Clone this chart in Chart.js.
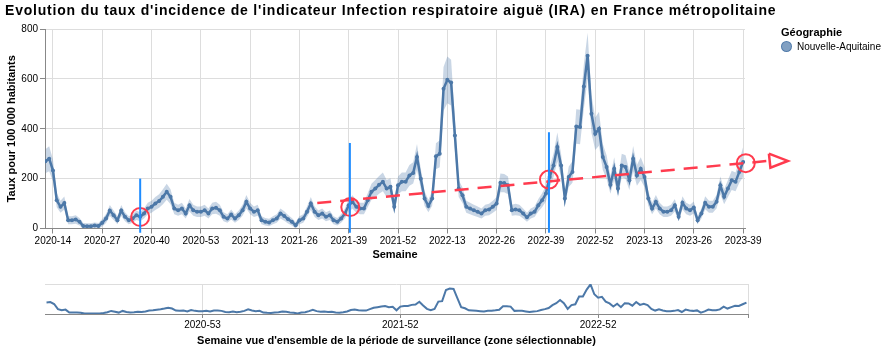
<!DOCTYPE html>
<html>
<head>
<meta charset="utf-8">
<script src="https://cdn.jsdelivr.net/npm/chart.js@4.4.1/dist/chart.umd.min.js"></script>
<style>
	body { margin: 0; background: #fff; font-family: 'Liberation Sans', Arial, Helvetica, sans-serif; }
	#page { position: relative; width: 885px; height: 352px; }
	#titre { position: absolute; left: 5px; top: 2px; font-size: 14px; letter-spacing: 0.8px; font-weight: bold; color: #000; white-space: nowrap; }
	#principal { position: absolute; left: 0; top: 0; }
	#apercu { position: absolute; left: 0; top: 270px; }
	#legende { position: absolute; left: 781px; top: 26px; font-size: 10px; color: #000; }
	#legende .titre-legende { font-size: 11px; font-weight: bold; margin-bottom: 3px; }
	#legende .item { display: flex; align-items: center; }
	#legende .pastille { width: 11px; height: 11px; border-radius: 50%; background: rgba(76,120,168,0.7); border: 1px solid rgba(76,120,168,0.9); box-sizing: border-box; margin-right: 5px; }
</style>
</head>
<body>
<div id="page">
	<canvas id="principal" width="885" height="264"></canvas>
	<canvas id="apercu" width="885" height="82"></canvas>
	<div id="titre">Evolution du taux d'incidence de l'indicateur Infection respiratoire aiguë (IRA) en France métropolitaine</div>
	<div id="legende">
		<div class="titre-legende">Géographie</div>
		<div class="item"><span class="pastille"></span>Nouvelle-Aquitaine</div>
	</div>
</div>
<script>
// weeks: 2020-12 .. 2023-39
const debut = { annee: 2020, semaine: 12 };
const finParAnnee = { 2020: 53, 2021: 52, 2022: 52, 2023: 39 };

const taux2020 = [270, 280, 233, 113, 87, 102, 33, 33, 36, 27, 10, 9, 9, 12, 10, 23, 40, 72, 53, 33, 72, 47, 33, 40, 53, 47, 60, 80, 87, 100, 110, 127, 147, 127, 80, 73, 80, 60, 93, 73, 67, 67];
const taux2021 = [73, 60, 80, 83, 73, 47, 40, 56, 40, 53, 73, 107, 80, 67, 73, 33, 27, 24, 33, 40, 60, 50, 37, 27, 13, 33, 40, 67, 100, 67, 53, 60, 47, 53, 33, 27, 40, 60, 93, 106, 87, 80, 80, 113, 147, 160, 175, 187, 160, 167, 87, 173];
const taux2022 = [187, 187, 213, 223, 287, 200, 120, 90, 120, 290, 300, 560, 596, 585, 373, 160, 133, 87, 80, 73, 67, 60, 73, 76, 87, 100, 183, 182, 173, 73, 76, 73, 60, 45, 60, 67, 93, 113, 140, 207, 253, 327, 253, 120, 207, 227, 409, 407, 569, 693, 460, 380];
const taux2023 = [400, 287, 247, 175, 240, 160, 253, 247, 193, 280, 213, 240, 207, 120, 80, 107, 80, 67, 67, 73, 93, 47, 103, 80, 73, 84, 33, 60, 103, 87, 87, 107, 173, 127, 160, 193, 187, 227, 267];

// half width of the confidence band
const ecart2020 = [48, 50, 44, 28, 24, 26, 16, 16, 17, 15, 12, 12, 12, 12, 12, 15, 18, 22, 19, 16, 22, 18, 16, 17, 19, 18, 20, 23, 24, 26, 27, 30, 32, 30, 23, 22, 23, 20, 25, 22, 21, 21];
const ecart2021 = [22, 20, 23, 24, 22, 18, 17, 20, 17, 19, 22, 27, 23, 21, 22, 16, 15, 15, 16, 17, 20, 19, 17, 15, 13, 16, 17, 21, 26, 21, 19, 20, 18, 19, 16, 15, 17, 20, 25, 27, 24, 23, 23, 28, 32, 34, 36, 38, 34, 35, 24, 36];
const ecart2022 = [38, 38, 42, 43, 52, 40, 29, 25, 29, 52, 54, 88, 94, 92, 64, 34, 31, 24, 23, 22, 21, 20, 22, 23, 24, 26, 38, 37, 36, 22, 23, 22, 20, 18, 20, 21, 25, 28, 32, 41, 47, 58, 47, 29, 41, 44, 69, 69, 90, 92, 76, 65];
const ecart2023 = [68, 52, 47, 36, 46, 34, 47, 47, 39, 51, 42, 46, 41, 29, 23, 27, 23, 21, 21, 22, 25, 18, 26, 23, 22, 24, 16, 20, 26, 24, 24, 27, 36, 30, 34, 39, 38, 44, 60];

const ticksPrincipal = ['2020-14', '2020-27', '2020-40', '2020-53', '2021-13', '2021-26', '2021-39', '2021-52', '2022-13', '2022-26', '2022-39', '2022-52', '2023-13', '2023-26', '2023-39'];
const ticksApercu = ['2020-53', '2021-52', '2022-52'];
const ticksY = [0, 200, 400, 600, 800];

// hand drawn marks on the picture (week position, value)
const traitsBleus = [[25.0, 200], [80.3, 343], [132.8, 386]];
const cercles = [[25.0, 46], [80.4, 86], [132.8, 196], [184.7, 262]];
const fleche = [[71.7, 102], [190.6, 271]];
const pointeFleche = [[190.8, 300], [195.8, 271], [191.2, 244], [190.8, 300]];

const semaines = [];
Object.keys(finParAnnee).forEach(function (annee) {
	const premiere = Number(annee) === debut.annee ? debut.semaine : 1;
	for (let s = premiere; s <= finParAnnee[annee]; s++) {
		semaines.push(annee + '-' + String(s).padStart(2, '0'));
	}
});
const taux = [].concat(taux2020, taux2021, taux2022, taux2023);
const ecart = [].concat(ecart2020, ecart2021, ecart2022, ecart2023);

const bleu = '#4c78a8';
const rouge = '#ff3b4e';
const police = "'Liberation Sans', Arial, Helvetica, sans-serif";
Chart.defaults.font.family = police;
Chart.defaults.color = '#000';

const serie = taux.map((v, i) => ({ x: i, y: v }));
const bas = taux.map((v, i) => ({ x: i, y: Math.max(0, v - ecart[i]) }));
const haut = taux.map((v, i) => ({ x: i, y: v + ecart[i] }));

const datasets = [];
traitsBleus.forEach(function (t) {
	datasets.push({
		data: [{ x: t[0], y: -17 }, { x: t[0], y: t[1] }],
		borderColor: '#1e8cff', borderWidth: 2, pointRadius: 0, clip: false, order: 0
	});
});
datasets.push({
	data: fleche.map(p => ({ x: p[0], y: p[1] })),
	borderColor: rouge, borderWidth: 2.5, borderDash: [14, 9], pointRadius: 0, clip: false, order: 0
});
// arrow head drawn as a closed outline (points outside the plot are not drawn by chart.js)
datasets.push({
	data: pointeFleche.map(p => ({ x: p[0], y: p[1] })),
	borderColor: rouge, borderWidth: 2.5, pointRadius: 0, clip: false, order: 0
});
datasets.push({
	type: 'scatter',
	data: cercles.map(p => ({ x: p[0], y: p[1] })),
	pointStyle: 'circle', pointRadius: 9, borderColor: rouge, borderWidth: 2,
	backgroundColor: 'rgba(0,0,0,0)', clip: false, order: 0
});
datasets.push({
	label: 'Nouvelle-Aquitaine',
	data: serie, borderColor: bleu, borderWidth: 2.5, backgroundColor: bleu,
	pointRadius: 2, pointBorderWidth: 0, tension: 0, order: 1
});
datasets.push({
	data: bas, borderWidth: 0, pointRadius: 0, fill: false, order: 3
});
datasets.push({
	data: haut, borderWidth: 0, pointRadius: 0, fill: '-1',
	backgroundColor: 'rgba(76,120,168,0.3)', order: 3
});

new Chart(document.getElementById('principal'), {
	type: 'line',
	data: { datasets: datasets },
	options: {
		responsive: false,
		animation: false,
		devicePixelRatio: 1,
		layout: { padding: { top: 29, right: 140, left: 0, bottom: 0 } },
		plugins: { legend: { display: false }, tooltip: { enabled: false } },
		scales: {
			x: {
				type: 'linear', min: -0.1, max: 184.5,
				afterBuildTicks: (scale) => { scale.ticks = ticksPrincipal.map(l => ({ value: semaines.indexOf(l) })); },
				afterFit: (scale) => { scale.height = 35.5; },
				ticks: { callback: (v) => semaines[v], autoSkip: false, maxRotation: 0, padding: 2, font: { size: 10 } },
				grid: { color: '#ddd', tickColor: '#888', tickLength: 5 },
				border: { color: '#888' },
				title: { display: true, text: 'Semaine', font: { size: 11, weight: 'bold' }, padding: { top: 0, bottom: 2 } }
			},
			y: {
				min: 0, max: 800,
				afterBuildTicks: (scale) => { scale.ticks = ticksY.map(v => ({ value: v })); },
				afterFit: (scale) => { scale.width = 45; },
				ticks: { padding: 2, font: { size: 10 } },
				grid: { color: '#ddd', tickColor: '#888', tickLength: 5 },
				border: { color: '#888' },
				title: { display: true, text: 'Taux pour 100 000 habitants', font: { size: 11, weight: 'bold' }, padding: { top: 5, bottom: 0 } }
			}
		}
	}
});

new Chart(document.getElementById('apercu'), {
	type: 'line',
	data: {
		datasets: [{
			data: serie, borderColor: bleu, borderWidth: 2, pointRadius: 0, tension: 0
		}]
	},
	options: {
		responsive: false,
		animation: false,
		devicePixelRatio: 1,
		layout: { padding: { top: 14, right: 137, left: 45, bottom: 0 } },
		plugins: { legend: { display: false }, tooltip: { enabled: false } },
		scales: {
			x: {
				type: 'linear', min: -0.4, max: 184.4,
				afterBuildTicks: (scale) => {
					scale.ticks = ticksApercu.map(l => ({ value: semaines.indexOf(l) }));
					scale.ticks.push({ value: 184.4 });
				},
				afterFit: (scale) => { scale.height = 38; },
				ticks: { callback: (v) => semaines[v] || '', autoSkip: false, maxRotation: 0, padding: 1, font: { size: 10 } },
				grid: { color: '#ddd', tickColor: '#888', tickLength: 4 },
				border: { color: '#888' },
				title: { display: true, text: "Semaine vue d'ensemble de la période de surveillance (zone sélectionnable)", font: { size: 11, weight: 'bold' }, padding: { top: 0, bottom: 4 } }
			},
			y: {
				min: 0, max: 700,
				afterBuildTicks: (scale) => { scale.ticks = [{ value: 0 }, { value: 700 }]; },
				afterFit: (scale) => { scale.width = 0; },
				ticks: { display: false },
				grid: { color: '#ddd', drawTicks: false },
				border: { display: false }
			}
		}
	}
});
</script>
</body>
</html>
